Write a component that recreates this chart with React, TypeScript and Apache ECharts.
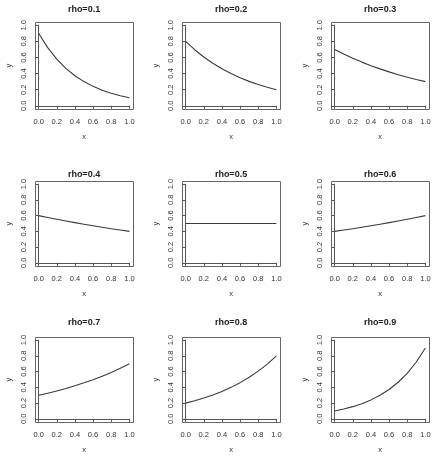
import React, { useEffect, useRef } from "react";
import * as echarts from "echarts";

// x positions where each curve is sampled
const xValues = [0, 0.1, 0.2, 0.3, 0.4, 0.5, 0.6, 0.7, 0.8, 0.9, 1.0];

// panel titles
const panelTitles = [
  "rho=0.1", "rho=0.2", "rho=0.3",
  "rho=0.4", "rho=0.5", "rho=0.6",
  "rho=0.7", "rho=0.8", "rho=0.9",
];

// y values of each panel's curve
const yRho01 = [0.9, 0.722, 0.579, 0.465, 0.373, 0.3, 0.241, 0.193, 0.155, 0.125, 0.1];
const yRho02 = [0.8, 0.696, 0.606, 0.528, 0.46, 0.4, 0.348, 0.303, 0.264, 0.23, 0.2];
const yRho03 = [0.7, 0.643, 0.59, 0.542, 0.498, 0.458, 0.421, 0.386, 0.355, 0.326, 0.3];
const yRho04 = [0.6, 0.576, 0.554, 0.532, 0.511, 0.49, 0.471, 0.452, 0.434, 0.417, 0.4];
const yRho05 = [0.5, 0.5, 0.5, 0.5, 0.5, 0.5, 0.5, 0.5, 0.5, 0.5, 0.5];
const yRho06 = [0.4, 0.417, 0.434, 0.452, 0.471, 0.49, 0.511, 0.532, 0.554, 0.576, 0.6];
const yRho07 = [0.3, 0.326, 0.355, 0.386, 0.421, 0.458, 0.498, 0.542, 0.59, 0.643, 0.7];
const yRho08 = [0.2, 0.23, 0.264, 0.303, 0.348, 0.4, 0.46, 0.528, 0.606, 0.696, 0.8];
const yRho09 = [0.1, 0.125, 0.155, 0.193, 0.241, 0.3, 0.373, 0.465, 0.579, 0.722, 0.9];

const panelSeries = [yRho01, yRho02, yRho03, yRho04, yRho05, yRho06, yRho07, yRho08, yRho09];

// tick labels
const tickLabels = ["0.0", "0.2", "0.4", "0.6", "0.8", "1.0"];
const xName = "x";
const yName = "y";

// layout of the 3x3 panels (plot box edges, px)
const colLefts = [35, 182, 331];
const boxWidth = 98;
const rowTops = [22, 181, 337];
const rowHeights = [87, 85, 85];
const titleY = [9, 174, 322];
const PAD = 0.04; // plot region extends 4% past the data range

const FONT = "Liberation Sans, Arial, Helvetica, sans-serif";
const TEXT_COLOR = "#333";
const AXIS_COLOR = "#555";

export default function App() {
  const ref = useRef<HTMLDivElement | null>(null);

  useEffect(() => {
    if (!ref.current) return;
    const chart = echarts.init(ref.current, null, { renderer: "svg" });

    const grids: any[] = [];
    const xAxes: any[] = [];
    const yAxes: any[] = [];
    const series: any[] = [];
    const graphics: any[] = [];

    const labelFmt = (v: number) => tickLabels[Math.round(v * 5)] ?? "";

    panelSeries.forEach((ys, i) => {
      const r = Math.floor(i / 3);
      const c = i % 3;
      const bl = colLefts[c];
      const bt = rowTops[r];
      const bh = rowHeights[r];
      const gw = boxWidth / (1 + 2 * PAD);
      const gh = bh / (1 + 2 * PAD);
      const gl = bl + gw * PAD;
      const gt = bt + gh * PAD;
      const padX = gw * PAD;
      const padY = gh * PAD;

      grids.push({ left: gl, top: gt, width: gw, height: gh, show: false });

      xAxes.push({
        type: "value",
        gridIndex: i,
        min: 0,
        max: 1,
        interval: 0.2,
        offset: padY + 4,
        axisLine: { show: true, lineStyle: { color: AXIS_COLOR, width: 1 } },
        axisTick: { show: true, length: 3, lineStyle: { color: AXIS_COLOR, width: 1 } },
        axisLabel: {
          formatter: labelFmt,
          fontSize: 7.5,
          fontFamily: FONT,
          color: TEXT_COLOR,
          margin: 4,
          showMinLabel: true,
          showMaxLabel: true,
        },
        splitLine: { show: false },
      });

      yAxes.push({
        type: "value",
        gridIndex: i,
        min: 0,
        max: 1,
        interval: 0.2,
        offset: padX + 4,
        axisLine: { show: true, lineStyle: { color: AXIS_COLOR, width: 1 } },
        axisTick: { show: true, length: 3, lineStyle: { color: AXIS_COLOR, width: 1 } },
        axisLabel: {
          formatter: labelFmt,
          fontSize: 7.5,
          fontFamily: FONT,
          color: TEXT_COLOR,
          rotate: 90,
          margin: 4,
          showMinLabel: true,
          showMaxLabel: true,
        },
        splitLine: { show: false },
      });

      series.push({
        type: "line",
        xAxisIndex: i,
        yAxisIndex: i,
        data: xValues.map((x, k) => [x, ys[k]]),
        smooth: false,
        showSymbol: false,
        silent: true,
        lineStyle: { color: "#3a3a3a", width: 1.1, join: "round" },
      });

      // plot box
      graphics.push({
        type: "rect",
        shape: { x: bl + 0.5, y: bt + 0.5, width: boxWidth, height: bh },
        style: { fill: "none", stroke: "#666", lineWidth: 1 },
        silent: true,
      });
      // panel title
      graphics.push({
        type: "text",
        x: bl + boxWidth / 2,
        y: titleY[r],
        style: {
          text: panelTitles[i],
          font: `bold 9px ${FONT}`,
          fill: "#222",
          textAlign: "center",
          textVerticalAlign: "middle",
        },
      });
      // x axis name
      graphics.push({
        type: "text",
        x: bl + boxWidth / 2,
        y: bt + bh + 27,
        style: {
          text: xName,
          font: `7.5px ${FONT}`,
          fill: TEXT_COLOR,
          textAlign: "center",
          textVerticalAlign: "middle",
        },
      });
      // y axis name
      graphics.push({
        type: "text",
        x: bl - 27,
        y: bt + bh / 2,
        rotation: Math.PI / 2,
        style: {
          text: yName,
          font: `7.5px ${FONT}`,
          fill: TEXT_COLOR,
          textAlign: "center",
          textVerticalAlign: "middle",
        },
      });
    });

    chart.setOption({
      animation: false,
      backgroundColor: "#fff",
      grid: grids,
      xAxis: xAxes,
      yAxis: yAxes,
      series,
      graphic: graphics,
    });

    return () => chart.dispose();
  }, []);

  return (
    <div
      ref={ref}
      style={{
        position: "fixed",
        left: 0,
        top: 0,
        width: 435,
        height: 456,
        filter: "grayscale(1)",
      }}
    />
  );
}
